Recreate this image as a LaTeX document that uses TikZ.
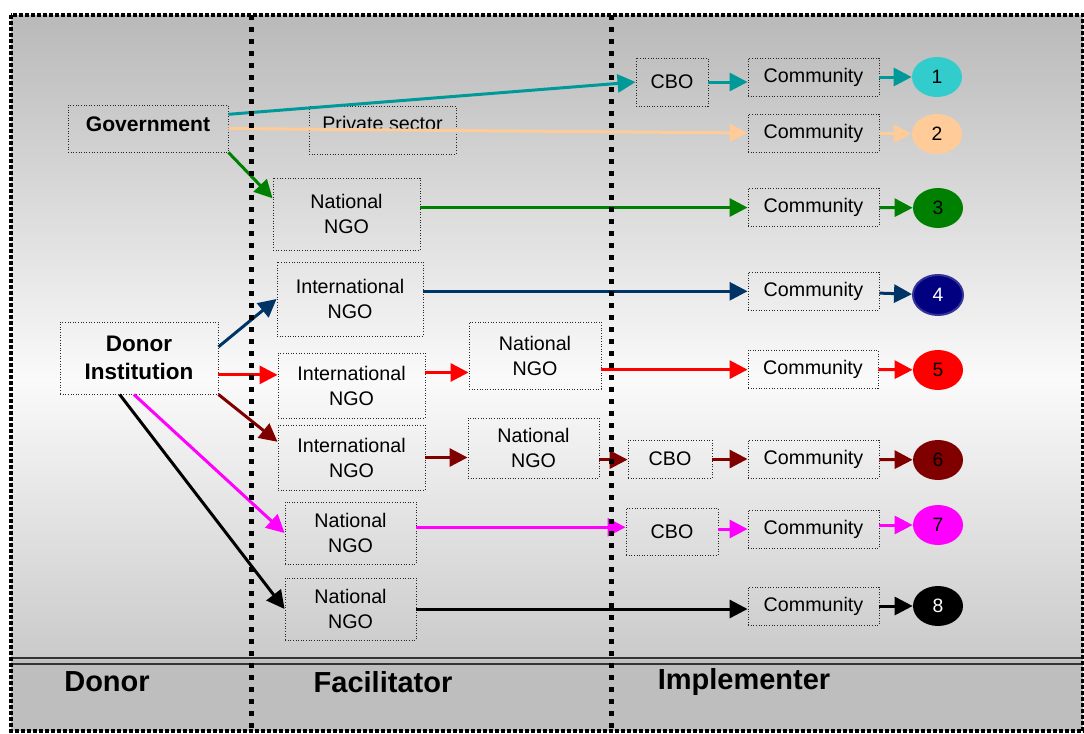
\documentclass[tikz,border=0pt]{standalone}
\usepackage{fontspec}
\setmainfont{Liberation Sans}
\usepackage{tikz}
\usetikzlibrary{shapes.geometric, arrows.meta, calc}
\definecolor{tealline}{RGB}{0, 153, 153}
\definecolor{peachline}{RGB}{255, 204, 153}
\definecolor{greenline}{RGB}{0, 128, 0}
\definecolor{navyline}{RGB}{0, 51, 102}
\definecolor{maroonline}{RGB}{128, 0, 0}
\definecolor{redline}{RGB}{255, 0, 0}
\definecolor{pinkline}{RGB}{255, 0, 255}
\definecolor{cyanfill}{RGB}{51, 204, 204}
\definecolor{navyfill}{RGB}{0, 0, 128}
\definecolor{navyedge}{RGB}{51, 51, 153}
\definecolor{bgtop}{RGB}{185, 185, 185}
\definecolor{bgmid}{RGB}{250, 250, 250}
\definecolor{bgbot}{RGB}{202, 202, 202}
\definecolor{bandgray}{RGB}{190, 190, 190}

\begin{document}
\begin{tikzpicture}[
    box/.style={rectangle, draw=black!85, densely dotted, line width=0.5pt, align=center, inner sep=0pt, font=\fontsize{11.2}{14.2}\selectfont},
    comm/.style={box, minimum width=2.62cm, minimum height=0.76cm},
    bigbox/.style={box, font=\bfseries\fontsize{12}{16}\selectfont},
    dot/.style={ellipse, minimum width=1cm, minimum height=0.8cm, inner sep=0pt, font=\fontsize{11}{13}\selectfont},
    arrow/.style={->, line width=0.06cm, >={Triangle[length=0.36cm, width=0.36cm]}},
    divider/.style={line width=0.1cm, dash pattern=on 0.1cm off 0.14cm},
    lane/.style={font=\bfseries\fontsize{16.5}{20}\selectfont}
]
    \useasboundingbox (0, 0) rectangle (21.68, -14.66);

    % Background and lane band
    \shade[top color=bgtop, bottom color=bgmid] (0.22, -0.30) rectangle (21.66, -7.6);
    \shade[top color=bgmid, bottom color=bgbot] (0.22, -7.6) rectangle (21.66, -13.2);
    \fill[bandgray] (0.22, -13.2) rectangle (21.66, -14.62);
    \draw[line width=0.04cm, black!80] (0.22, -13.15) -- (21.68, -13.15);
    \draw[line width=0.04cm, black!80] (0.22, -13.27) -- (21.68, -13.27);
    \draw[line width=0.08cm, dash pattern=on 0.08cm off 0.04cm] (0.22, -0.30) rectangle (21.66, -14.62);

    % Donors
    \node[bigbox, minimum width=3.2cm, text height=0.52cm, text depth=0.42cm] (gov) at (2.96, -2.57) {Government};
    \node[bigbox, minimum width=3.16cm, minimum height=1.44cm, font=\bfseries\fontsize{12.8}{16}\selectfont] (donor) at (2.78, -7.16) {Donor\\Institution};

    % Facilitators
    \node[box, minimum width=2.94cm, text height=0.48cm, text depth=0.48cm] (priv) at (7.65, -2.60) {Private sector};
    \node[box, minimum width=2.94cm, minimum height=1.44cm] (nat3) at (6.93, -4.28) {National\\NGO};
    \node[box, minimum width=2.92cm, minimum height=1.48cm] (int4) at (7.00, -5.98) {International\\NGO};
    \node[box, minimum width=2.94cm, minimum height=1.30cm] (int5) at (7.03, -7.71) {International\\NGO};
    \node[box, minimum width=2.64cm, minimum height=1.34cm] (nat5) at (10.70, -7.11) {National\\NGO};
    \node[box, minimum width=2.94cm, minimum height=1.30cm] (int6) at (7.03, -9.15) {International\\NGO};
    \node[box, minimum width=2.62cm, minimum height=1.20cm] (nat6) at (10.67, -8.96) {National\\NGO};
    \node[box, minimum width=2.62cm, minimum height=1.24cm] (nat7) at (7.01, -10.66) {National\\NGO};
    \node[box, minimum width=2.62cm, minimum height=1.24cm] (nat8) at (7.01, -12.18) {National\\NGO};

    % Implementers
    \node[box, minimum width=1.44cm, minimum height=0.96cm] (cbo1) at (13.44, -1.64) {CBO};
    \node[box, minimum width=1.68cm, minimum height=0.76cm] (cbo6) at (13.40, -9.18) {CBO};
    \node[box, minimum width=1.84cm, minimum height=0.94cm] (cbo7) at (13.44, -10.63) {CBO};
    \node[comm] (comm1) at (16.27, -1.54) {Community};
    \node[comm] (comm2) at (16.27, -2.66) {Community};
    \node[comm] (comm3) at (16.27, -4.14) {Community};
    \node[comm] (comm4) at (16.27, -5.82) {Community};
    \node[comm, minimum width=2.60cm] (comm5) at (16.26, -7.38) {Community};
    \node[comm] (comm6) at (16.27, -9.18) {Community};
    \node[comm] (comm7) at (16.27, -10.58) {Community};
    \node[comm] (comm8) at (16.27, -12.12) {Community};

    % Route numbers
    \node[dot, fill=cyanfill] (c1) at (18.74, -1.54) {1};
    \node[dot, fill=peachline] (c2) at (18.74, -2.68) {2};
    \node[dot, fill=greenline] (c3) at (18.76, -4.16) {3};
    \node[dot, fill=navyfill, draw=navyedge, line width=0.04cm, text=white] (c4) at (18.76, -5.90) {4};
    \node[dot, fill=redline] (c5) at (18.76, -7.40) {5};
    \node[dot, fill=maroonline] (c6) at (18.76, -9.20) {6};
    \node[dot, fill=pinkline] (c7) at (18.76, -10.50) {7};
    \node[dot, fill=black, text=white] (c8) at (18.76, -12.12) {8};

    % Routes from government
    \draw[arrow, tealline] (gov.10) -- (cbo1.west);
    \draw[arrow, tealline] (cbo1.east) -- (cbo1.east -| comm1.west);
    \draw[arrow, tealline] (comm1) -- (c1);
    \draw[arrow, peachline] (gov.east) -- (comm2.west);
    \draw[arrow, peachline] (comm2) -- (c2);
    \draw[arrow, greenline] (gov.south east) -- (nat3.168);
    \draw[arrow, greenline] (nat3.5) -- (nat3.5 -| comm3.west);
    \draw[arrow, greenline] (comm3) -- (c3);

    % Routes from donor institution
    \draw[arrow, navyline] (donor.8) -- (int4.west);
    \draw[arrow, navyline] (int4.6) -- (int4.6 -| comm4.west);
    \draw[arrow, navyline] (comm4) -- (c4);

    \draw[arrow, redline] (donor.-12) -- (donor.-12 -| int5.west);
    \draw[arrow, redline] (int5.10) -- (int5.10 -| nat5.west);
    \draw[arrow, redline] (nat5.-12) -- (nat5.-12 -| comm5.west);
    \draw[arrow, redline] (comm5) -- (c5);

    \draw[arrow, maroonline] (donor.south east) -- (int6.168);
    \draw[arrow, maroonline] (int6.east) -- (int6.east -| nat6.west);
    \draw[arrow, maroonline] (nat6.-10) -- (nat6.-10 -| cbo6.west);
    \draw[arrow, maroonline] (cbo6) -- (comm6);
    \draw[arrow, maroonline] (comm6) -- (c6);

    \draw[arrow, pinkline] (donor.-98) -- (nat7.west);
    \draw[arrow, pinkline] (nat7.5) -- (nat7.5 -| cbo7.west);
    \draw[arrow, pinkline] (comm7.west -| cbo7.east) -- (comm7.west);
    \draw[arrow, pinkline] (c7.west -| comm7.east) -- (c7.west);

    \draw[arrow, black] (donor.-118) -- (nat8.west);
    \draw[arrow, black] (nat8.east) -- (nat8.east -| comm8.west);
    \draw[arrow, black] (comm8) -- (c8);

    % Lane dividers and titles
    \draw[divider] (5.02, -0.30) -- (5.02, -14.62);
    \draw[divider] (12.22, -0.30) -- (12.22, -14.62);
    \node[lane] (ldonor) at (2.14, -13.64) {Donor};
    \node[lane] (lfac) at (7.66, -13.64) {Facilitator};
    \node[lane] (limp) at (14.88, -13.64) {Implementer};
\end{tikzpicture}
\end{document}
